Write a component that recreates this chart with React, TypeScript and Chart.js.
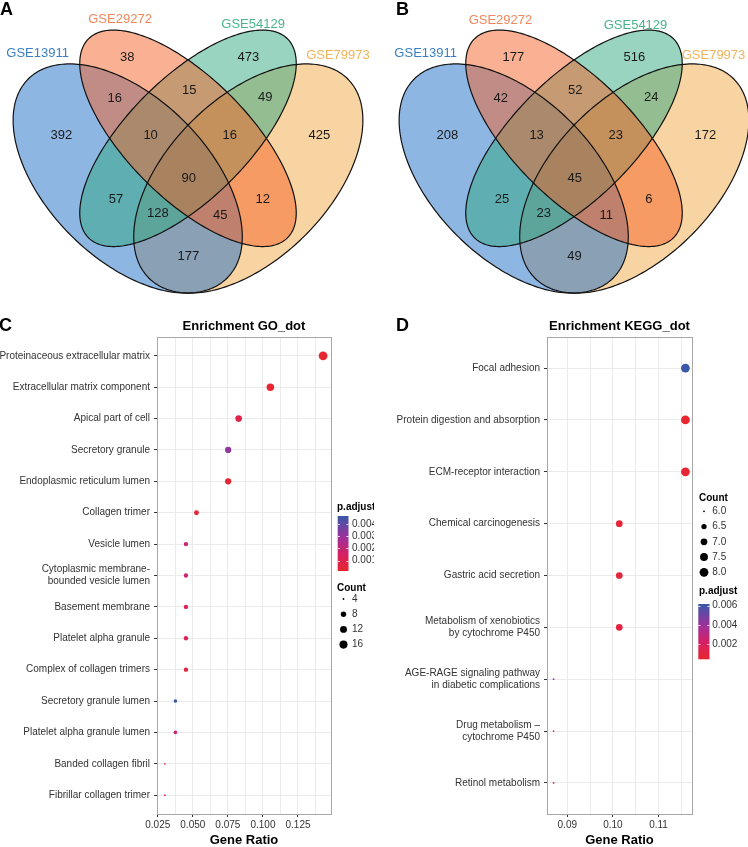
import React, { useEffect, useRef } from 'react';
import { Chart, registerables } from 'chart.js';

Chart.register(...registerables);

const FONT = "'Liberation Sans', Arial, Helvetica, sans-serif";
Chart.defaults.font.family = FONT;

// ---------------- Venn data ----------------
const SET_NAMES = ['GSE13911', 'GSE29272', 'GSE54129', 'GSE79973'];
// region membership (1=GSE13911, 2=GSE29272, 3=GSE54129, 4=GSE79973)
const REGION_KEYS = ['2', '3', '12', '23', '34', '1', '123', '234', '4', '1234', '13', '24', '134', '124', '14'];
const VENN_A_COUNTS = [38, 473, 16, 15, 49, 392, 10, 16, 425, 90, 57, 12, 128, 45, 177];
const VENN_B_COUNTS = [177, 516, 42, 52, 24, 208, 13, 23, 172, 45, 25, 6, 23, 11, 49];

// ---------------- GO dot plot data ----------------
const GO_TERMS = [
  'Proteinaceous extracellular matrix',
  'Extracellular matrix component',
  'Apical part of cell',
  'Secretory granule',
  'Endoplasmic reticulum lumen',
  'Collagen trimer',
  'Vesicle lumen',
  'Cytoplasmic membrane-\nbounded vesicle lumen',
  'Basement membrane',
  'Platelet alpha granule',
  'Complex of collagen trimers',
  'Secretory granule lumen',
  'Platelet alpha granule lumen',
  'Banded collagen fibril',
  'Fibrillar collagen trimer',
];
const GO_RATIO = [0.1429, 0.1053, 0.0827, 0.0752, 0.0752, 0.0526, 0.0451, 0.0451, 0.0451, 0.0451, 0.0451, 0.0376, 0.0376, 0.0301, 0.0301];
const GO_COUNT = [19, 14, 11, 10, 10, 7, 6, 6, 6, 6, 6, 5, 5, 4, 4];
const GO_PADJ = [0.00016, 0.0002, 0.0009, 0.0031, 0.0003, 0.0004, 0.0019, 0.0019, 0.0012, 0.0012, 0.0006, 0.00465, 0.0018, 0.0007, 0.0009];
const GO_X_MAJOR = [0.025, 0.05, 0.075, 0.1, 0.125];
const GO_X_MINOR = [0.0375, 0.0625, 0.0875, 0.1125, 0.1375];
const GO_COUNT_BREAKS = [4, 8, 12, 16];
const GO_P_BREAKS = [0.001, 0.002, 0.003, 0.004];

// ---------------- KEGG dot plot data ----------------
const KEGG_TERMS = [
  'Focal adhesion',
  'Protein digestion and absorption',
  'ECM-receptor interaction',
  'Chemical carcinogenesis',
  'Gastric acid secretion',
  'Metabolism of xenobiotics\nby cytochrome P450',
  'AGE-RAGE signaling pathway\nin diabetic complications',
  'Drug metabolism –\ncytochrome P450',
  'Retinol metabolism',
];
const KEGG_RATIO = [0.1159, 0.1159, 0.1159, 0.1014, 0.1014, 0.1014, 0.087, 0.087, 0.087];
const KEGG_COUNT = [8, 8, 8, 7, 7, 7, 6, 6, 6];
const KEGG_PADJ = [0.00618, 0.00041, 0.0006, 0.0008, 0.0009, 0.001, 0.004, 0.0025, 0.0021];
const KEGG_X_MAJOR = [0.09, 0.1, 0.11];
const KEGG_X_MINOR = [0.095, 0.105, 0.115];
const KEGG_COUNT_BREAKS = [6, 6.5, 7, 7.5, 8];
const KEGG_P_BREAKS = [0.002, 0.004, 0.006];

// ---------------- layout / style ----------------
const VENN_CX = [0.35, 0.5, 0.5, 0.65];
const VENN_CY = [0.47, 0.57, 0.57, 0.47];
const VENN_RA = [0.35, 0.35, 0.35, 0.35];
const VENN_RB = [0.2, 0.15, 0.15, 0.2];
const VENN_ROT = [-45, -45, 45, 45];
const VENN_FILL = ['#1e6ec8', '#f56428', '#32aa82', '#f2aa46'];
const VENN_FILL_ORDER = [3, 0, 2, 1];
const VENN_TEXT_COL = ['#3a7fc1', '#f0875a', '#48b48a', '#f0b45a'];
const REGION_X = [0.349, 0.65, 0.318, 0.503, 0.692, 0.185, 0.407, 0.604, 0.827, 0.502, 0.321, 0.686, 0.425, 0.58, 0.501];
const REGION_Y = [0.77, 0.77, 0.67, 0.69, 0.672, 0.578, 0.578, 0.578, 0.578, 0.469, 0.419, 0.419, 0.382, 0.379, 0.277];
const A_NAME_X = [0.126, 0.331, 0.662, 0.873];
const A_NAME_Y = [0.78, 0.866, 0.854, 0.775];
const B_NAME_X = [0.131, 0.317, 0.653, 0.847];
const B_NAME_Y = [0.78, 0.864, 0.852, 0.775];
const VENN_PX_PER_UNIT = 402;
const VENN_W = 374;
const VENN_H = 300;

const P_STOPS: number[][] = [
  [0, 232, 38, 47],
  [0.3, 214, 33, 98],
  [0.62, 155, 50, 155],
  [1, 58, 88, 168],
];

function pColor(t: number) {
  const tt = Math.max(0, Math.min(1, t));
  for (let i = 1; i < P_STOPS.length; i++) {
    if (tt <= P_STOPS[i][0]) {
      const a = P_STOPS[i - 1];
      const b = P_STOPS[i];
      const f = (tt - a[0]) / (b[0] - a[0]);
      const c = [1, 2, 3].map((k) => Math.round(a[k] + (b[k] - a[k]) * f));
      return `rgb(${c[0]},${c[1]},${c[2]})`;
    }
  }
  const l = P_STOPS[P_STOPS.length - 1];
  return `rgb(${l[1]},${l[2]},${l[3]})`;
}

function sizeRadius(c: number, cmin: number, cmax: number) {
  const s = 1 + 5 * Math.sqrt(Math.max(0, (c - cmin) / (cmax - cmin)));
  return 0.7 * s + 0.2;
}

// ---------------- Venn chart ----------------
function makeVennPlugin(counts: number[], nameX: number[], nameY: number[]) {
  return {
    id: 'vennShapes',
    beforeDatasetsDraw(chart: any) {
      const { ctx, scales } = chart;
      const xs = scales.x;
      const ys = scales.y;
      const path = (i: number) => {
        ctx.beginPath();
        const th = (VENN_ROT[i] * Math.PI) / 180;
        const N = 240;
        for (let k = 0; k <= N; k++) {
          const t = (k / N) * Math.PI * 2;
          const ux = VENN_CX[i] + VENN_RA[i] * Math.cos(t) * Math.cos(th) - VENN_RB[i] * Math.sin(t) * Math.sin(th);
          const uy = VENN_CY[i] + VENN_RA[i] * Math.cos(t) * Math.sin(th) + VENN_RB[i] * Math.sin(t) * Math.cos(th);
          const px = xs.getPixelForValue(ux);
          const py = ys.getPixelForValue(uy);
          if (k === 0) ctx.moveTo(px, py);
          else ctx.lineTo(px, py);
        }
        ctx.closePath();
      };
      ctx.save();
      VENN_FILL_ORDER.forEach((i) => {
        path(i);
        ctx.globalAlpha = 0.5;
        ctx.fillStyle = VENN_FILL[i];
        ctx.fill();
      });
      ctx.globalAlpha = 1;
      for (let i = 0; i < 4; i++) {
        path(i);
        ctx.strokeStyle = '#111';
        ctx.lineWidth = 1.2;
        ctx.stroke();
      }
      ctx.restore();
    },
    afterDatasetsDraw(chart: any) {
      const { ctx, scales } = chart;
      const meta = chart.getDatasetMeta(0);
      ctx.save();
      ctx.font = `13px ${FONT}`;
      ctx.textAlign = 'center';
      ctx.textBaseline = 'middle';
      ctx.fillStyle = '#1a1a1a';
      meta.data.forEach((el: any, i: number) => {
        ctx.fillText(String(counts[i]), el.x, el.y);
      });
      for (let i = 0; i < 4; i++) {
        ctx.fillStyle = VENN_TEXT_COL[i];
        ctx.fillText(SET_NAMES[i], scales.x.getPixelForValue(nameX[i]), scales.y.getPixelForValue(nameY[i]));
      }
      ctx.restore();
    },
  };
}

function VennChart(props: { counts: number[]; centerPx: number; left: number; nameX: number[]; nameY: number[] }) {
  const ref = useRef<HTMLCanvasElement>(null);
  useEffect(() => {
    const cx = props.centerPx;
    const chart = new Chart(ref.current as HTMLCanvasElement, {
      type: 'scatter',
      data: {
        datasets: [
          {
            label: 'regions',
            data: REGION_X.map((x, i) => ({ x, y: REGION_Y[i], key: REGION_KEYS[i] })),
            pointRadius: 0,
            pointHoverRadius: 0,
          } as any,
        ],
      },
      options: {
        animation: false,
        responsive: false,
        devicePixelRatio: 1,
        layout: { padding: 0 },
        events: [],
        plugins: { legend: { display: false }, tooltip: { enabled: false } },
        scales: {
          x: { type: 'linear', display: false, min: 0.5 - cx / VENN_PX_PER_UNIT, max: 0.5 + (VENN_W - cx) / VENN_PX_PER_UNIT },
          y: { type: 'linear', display: false, min: 0.47 - (VENN_H - 178.5) / VENN_PX_PER_UNIT, max: 0.47 + 178.5 / VENN_PX_PER_UNIT },
        },
      },
      plugins: [makeVennPlugin(props.counts, props.nameX, props.nameY)],
    } as any);
    return () => chart.destroy();
  }, []);
  return (
    <canvas
      ref={ref}
      width={VENN_W}
      height={VENN_H}
      style={{ position: 'absolute', left: props.left, top: 0, width: VENN_W, height: VENN_H }}
    />
  );
}

// ---------------- Dot chart ----------------
type DotCfg = {
  title: string;
  terms: string[];
  ratio: number[];
  count: number[];
  padj: number[];
  xMajor: number[];
  xMinor: number[];
  xDigits: number;
  yAxisW: number;
  padRight: number;
  countBreaks: number[];
  countDigits: number;
  pBreaks: number[];
  pDigits: number;
  lg: {
    x: number;
    pTitleY: number;
    barX: number;
    barW: number;
    barTop: number;
    barBottom: number;
    pLabelX: number;
    countTitleY: number;
    countY0: number;
    countStep: number;
    dotX: number;
    countLabelX: number;
  };
};

const DOT_W = 374;
const DOT_H = 547;

function makeDotPlugin(cfg: DotCfg) {
  const cmin = Math.min(...cfg.count);
  const cmax = Math.max(...cfg.count);
  const pmin = Math.min(...cfg.padj);
  const pmax = Math.max(...cfg.padj);
  return {
    id: 'dotExtras',
    beforeDatasetsDraw(chart: any) {
      const { ctx, chartArea: ca } = chart;
      ctx.save();
      ctx.strokeStyle = '#a8a8a8';
      ctx.lineWidth = 1;
      ctx.strokeRect(Math.round(ca.left) + 0.5, Math.round(ca.top) + 0.5, Math.round(ca.right - ca.left), Math.round(ca.bottom - ca.top));
      ctx.restore();
    },
    afterDraw(chart: any) {
      const { ctx, chartArea: ca } = chart;
      const lg = cfg.lg;
      ctx.save();
      // title
      ctx.font = `bold 13px ${FONT}`;
      ctx.fillStyle = '#000';
      ctx.textAlign = 'center';
      ctx.textBaseline = 'middle';
      ctx.fillText(cfg.title, (ca.left + ca.right) / 2, 26);

      // p.adjust legend
      ctx.textAlign = 'left';
      ctx.font = `bold 10px ${FONT}`;
      ctx.fillText('p.adjust', lg.x, lg.pTitleY);
      const grad = ctx.createLinearGradient(0, lg.barBottom, 0, lg.barTop);
      P_STOPS.forEach((s) => grad.addColorStop(s[0], `rgb(${s[1]},${s[2]},${s[3]})`));
      ctx.fillStyle = grad;
      ctx.fillRect(lg.barX, lg.barTop, lg.barW, lg.barBottom - lg.barTop);
      ctx.font = `10px ${FONT}`;
      ctx.fillStyle = '#333';
      ctx.strokeStyle = 'rgba(255,255,255,0.8)';
      ctx.lineWidth = 1;
      cfg.pBreaks.forEach((v) => {
        const y = lg.barBottom - ((v - pmin) / (pmax - pmin)) * (lg.barBottom - lg.barTop);
        const yy = Math.round(y) + 0.5;
        ctx.beginPath();
        ctx.moveTo(lg.barX, yy);
        ctx.lineTo(lg.barX + lg.barW * 0.2, yy);
        ctx.moveTo(lg.barX + lg.barW * 0.8, yy);
        ctx.lineTo(lg.barX + lg.barW, yy);
        ctx.stroke();
        ctx.fillText(v.toFixed(cfg.pDigits), lg.pLabelX, y);
      });

      // Count legend
      ctx.font = `bold 10px ${FONT}`;
      ctx.fillStyle = '#000';
      ctx.fillText('Count', lg.x, lg.countTitleY);
      ctx.font = `10px ${FONT}`;
      cfg.countBreaks.forEach((c, i) => {
        const y = lg.countY0 + i * lg.countStep;
        ctx.fillStyle = '#000';
        ctx.beginPath();
        ctx.arc(lg.dotX, y, sizeRadius(c, cmin, cmax), 0, Math.PI * 2);
        ctx.fill();
        ctx.fillStyle = '#333';
        ctx.fillText(c.toFixed(cfg.countDigits), lg.countLabelX, y);
      });
      ctx.restore();
    },
  };
}

function DotChart(props: { cfg: DotCfg; left: number }) {
  const ref = useRef<HTMLCanvasElement>(null);
  useEffect(() => {
    const cfg = props.cfg;
    const cmin = Math.min(...cfg.count);
    const cmax = Math.max(...cfg.count);
    const pmin = Math.min(...cfg.padj);
    const pmax = Math.max(...cfg.padj);
    const rmin = Math.min(...cfg.ratio);
    const rmax = Math.max(...cfg.ratio);
    const span = rmax - rmin;
    const xTicks = [...cfg.xMajor, ...cfg.xMinor].sort((a, b) => a - b);
    const n = cfg.terms.length;
    const chart = new Chart(ref.current as HTMLCanvasElement, {
      type: 'scatter',
      data: {
        datasets: [
          {
            label: cfg.title,
            data: cfg.ratio.map((x, i) => ({ x, y: i })),
            pointRadius: cfg.count.map((c) => sizeRadius(c, cmin, cmax)),
            pointHoverRadius: cfg.count.map((c) => sizeRadius(c, cmin, cmax)),
            pointBackgroundColor: cfg.padj.map((p) => pColor((p - pmin) / (pmax - pmin))),
            pointBorderWidth: 0,
            pointBorderColor: 'rgba(0,0,0,0)',
          },
        ],
      },
      options: {
        animation: false,
        responsive: false,
        devicePixelRatio: 1,
        events: [],
        layout: { padding: { top: 37, right: cfg.padRight, bottom: 0, left: 0 } },
        plugins: { legend: { display: false }, tooltip: { enabled: false } },
        scales: {
          x: {
            type: 'linear',
            min: rmin - span * 0.05,
            max: rmax + span * 0.05,
            afterBuildTicks: (s: any) => {
              s.ticks = xTicks.map((v) => ({ value: v }));
            },
            afterFit: (s: any) => {
              s.height = 33;
            },
            ticks: {
              autoSkip: false,
              maxRotation: 0,
              minRotation: 0,
              padding: 2,
              color: '#333',
              font: { size: 10 },
              callback: (v: any) => (cfg.xMajor.includes(v) ? Number(v).toFixed(cfg.xDigits) : ''),
            },
            grid: {
              color: '#ebebeb',
              lineWidth: 1,
              tickLength: 3,
              tickColor: (ctx: any) => (ctx.tick && cfg.xMajor.includes(ctx.tick.value) ? '#333' : 'rgba(0,0,0,0)'),
            },
            border: { display: false },
            title: {
              display: true,
              text: 'Gene Ratio',
              color: '#000',
              font: { size: 13, weight: 'bold', lineHeight: 1 },
              padding: 0,
            },
          },
          y: {
            type: 'linear',
            reverse: true,
            min: -0.6,
            max: n - 0.4,
            afterBuildTicks: (s: any) => {
              s.ticks = cfg.terms.map((_, i) => ({ value: i }));
            },
            afterFit: (s: any) => {
              s.width = cfg.yAxisW;
            },
            ticks: {
              autoSkip: false,
              padding: 4,
              color: '#333',
              font: { size: 10 },
              callback: (v: any) => {
                const t = cfg.terms[v];
                return t ? t.split('\n') : '';
              },
            },
            grid: { color: '#ebebeb', lineWidth: 1, tickLength: 3, tickColor: '#333' },
            border: { display: false },
          },
        },
      },
      plugins: [makeDotPlugin(cfg)],
    } as any);
    return () => chart.destroy();
  }, []);
  return (
    <canvas
      ref={ref}
      width={DOT_W}
      height={DOT_H}
      style={{ position: 'absolute', left: props.left, top: 300, width: DOT_W, height: DOT_H }}
    />
  );
}

const GO_CFG: DotCfg = {
  title: 'Enrichment GO_dot',
  terms: GO_TERMS,
  ratio: GO_RATIO,
  count: GO_COUNT,
  padj: GO_PADJ,
  xMajor: GO_X_MAJOR,
  xMinor: GO_X_MINOR,
  xDigits: 3,
  yAxisW: 157,
  padRight: 43,
  countBreaks: GO_COUNT_BREAKS,
  countDigits: 0,
  pBreaks: GO_P_BREAKS,
  pDigits: 3,
  lg: {
    x: 337,
    pTitleY: 207,
    barX: 337.7,
    barW: 10.8,
    barTop: 216,
    barBottom: 271,
    pLabelX: 352,
    countTitleY: 288,
    countY0: 299,
    countStep: 15.2,
    dotX: 343.5,
    countLabelX: 352,
  },
};

const KEGG_CFG: DotCfg = {
  title: 'Enrichment KEGG_dot',
  terms: KEGG_TERMS,
  ratio: KEGG_RATIO,
  count: KEGG_COUNT,
  padj: KEGG_PADJ,
  xMajor: KEGG_X_MAJOR,
  xMinor: KEGG_X_MINOR,
  xDigits: 2,
  yAxisW: 173,
  padRight: 56,
  countBreaks: KEGG_COUNT_BREAKS,
  countDigits: 1,
  pBreaks: KEGG_P_BREAKS,
  pDigits: 3,
  lg: {
    x: 325,
    pTitleY: 291,
    barX: 324.3,
    barW: 11.2,
    barTop: 304,
    barBottom: 359.3,
    pLabelX: 338.3,
    countTitleY: 198.7,
    countY0: 211.3,
    countStep: 15.25,
    dotX: 330,
    countLabelX: 338.3,
  },
};

const letterStyle = (left: number, top: number): React.CSSProperties => ({
  position: 'absolute',
  left,
  top,
  font: `bold 18px ${FONT}`,
  lineHeight: '18px',
  color: '#000',
});

export default function App() {
  return (
    <div style={{ position: 'fixed', left: 0, top: 0, width: 748, height: 847, background: '#fff', overflow: 'hidden' }}>
      <VennChart counts={VENN_A_COUNTS} centerPx={188} left={0} nameX={A_NAME_X} nameY={A_NAME_Y} />
      <VennChart counts={VENN_B_COUNTS} centerPx={574 - 374} left={374} nameX={B_NAME_X} nameY={B_NAME_Y} />
      <DotChart cfg={GO_CFG} left={0} />
      <DotChart cfg={KEGG_CFG} left={374} />
      <div style={letterStyle(0, 0)}>A</div>
      <div style={letterStyle(396, 0)}>B</div>
      <div style={letterStyle(-1, 316)}>C</div>
      <div style={letterStyle(396, 316)}>D</div>
    </div>
  );
}
